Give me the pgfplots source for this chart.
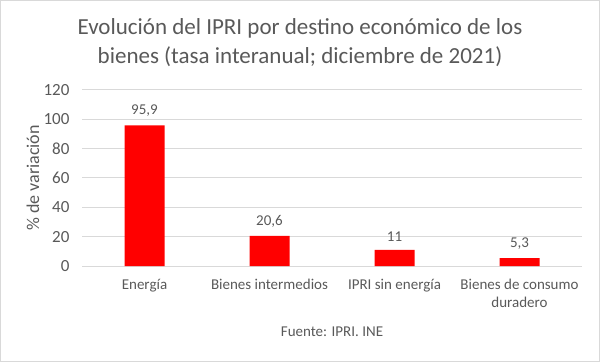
\documentclass[border=0pt]{standalone}
\usepackage{pgfplots}
\pgfplotsset{compat=1.18}
\usepackage{fontspec}
\setmainfont{Carlito}
\definecolor{txt}{HTML}{595959}
\definecolor{gridc}{HTML}{D9D9D9}
\begin{document}
\begin{tikzpicture}[x=1pt,y=1pt]
\draw[gridc, line width=1pt] (0.5,0.5) rectangle (599.5,361.5);
\useasboundingbox (0,0) rectangle (600,362);
\node[text=txt, align=center, font=\fontsize{23}{29}\selectfont] at (300,319) {Evolución del IPRI por destino económico de los\\bienes (tasa interanual; diciembre de 2021)};
\node[text=txt, font=\fontsize{15}{18}\selectfont] at (332,30) {Fuente: IPRI. INE};
\begin{axis}[
  at={(82pt,96pt)}, anchor=south west,
  scale only axis, width=500pt, height=176pt,
  xmin=-0.5, xmax=3.5, ymin=0, ymax=120,
  ytick={0,20,...,120},
  xtick={0,1,2,3},
  xticklabels={Energía, Bienes intermedios, IPRI sin energía, {Bienes de consumo\\duradero}},
  xticklabel style={align=center, text=txt, font=\fontsize{15}{18}\selectfont, anchor=north, yshift=-10pt},
  yticklabel={\fontsize{17}{18}\selectfont\pgfmathprintnumber{\tick}},
  yticklabel style={text=txt, anchor=east, xshift=-9pt},
  /pgf/number format/assume math mode=true,
  ymajorgrids, grid style={gridc, line width=1pt},
  major tick length=0pt,
  axis lines*=left,
  y axis line style={draw=none},
  x axis line style={gridc, line width=1pt, -},
  ylabel={\fontsize{18}{20}\selectfont\% de variación},
  ylabel style={text=txt, at={(axis description cs:-0.098,0.5)}, anchor=center},
  ybar, bar width=40pt,
  nodes near coords,
  every node near coord/.append style={text=txt, font=\fontsize{15}{18}\selectfont, yshift=5pt},
  /pgf/number format/use comma,
  clip=false,
]
\addplot[fill=red, draw=none] coordinates {(0,95.9) (1,20.6) (2,11) (3,5.3)};
\end{axis}
\end{tikzpicture}
\end{document}
